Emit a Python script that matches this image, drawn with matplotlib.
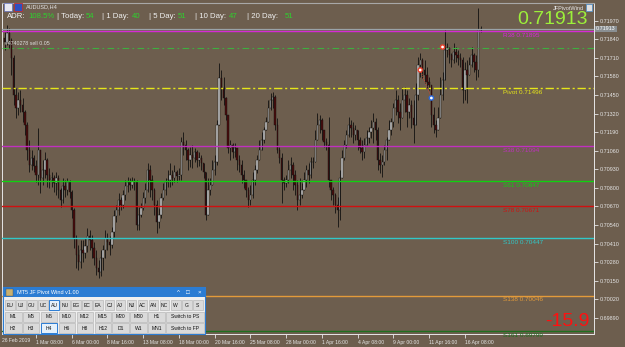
import numpy as np
import matplotlib.pyplot as plt
from matplotlib.patches import Rectangle

W, H = 625, 347
BG = '#6D5E4E'
FG = '#E6E6E6'

# --- AUDUSD H4 candles (prices x 1e-5), open = previous close ---
first_open = 71780
close = [71800, 71849, 71821, 71884, 71835, 71709, 71450, 71359, 71415, 71380,
         71331, 71240, 71065, 70960, 71009, 70953, 70890, 71065, 70869, 70925,
         70995, 70890, 70855, 70869, 70834, 70869, 70785, 70715, 70813, 70785,
         70841, 70771, 70645, 70449, 70330, 70281, 70365, 70344, 70393, 70463,
         70435, 70379, 70309, 70239, 70211, 70309, 70365, 70449, 70421, 70400,
         70491, 70603, 70645, 70715, 70680, 70750, 70813, 70841, 70820, 70848,
         70841, 70540, 70610, 70659, 70729, 70785, 70925, 70855, 70785, 70680,
         70561, 70610, 70729, 70785, 70841, 70855, 70890, 70869, 70911, 70883,
         70890, 71121, 71100, 71065, 70995, 71030, 71009, 71051, 70995, 71009,
         70974, 70911, 70610, 70785, 70820, 70925, 70981, 71240, 71569, 71499,
         71429, 71310, 71079, 71100, 71051, 71079, 70995, 70960, 70890, 70855,
         70785, 70715, 70750, 70855, 70925, 70995, 71065, 71135, 71205, 71261,
         71359, 71415, 71436, 71240, 71065, 71009, 70855, 70834, 70855, 70925,
         70960, 70890, 70820, 70715, 70750, 70785, 70855, 70925, 70890, 70981,
         70981, 71135, 71240, 71275, 71205, 71121, 71100, 70855, 70785, 70750,
         70680, 70645, 70869, 71009, 71100, 71170, 71240, 71219, 71170, 71205,
         71135, 71079, 71051, 71100, 71149, 71191, 71219, 71261, 71205, 70995,
         70960, 70981, 71065, 71135, 71205, 71261, 71359, 71415, 71331, 71289,
         71415, 71450, 71331, 71380, 71289, 71240, 71450, 71660, 71695, 71625,
         71590, 71541, 71520, 71310, 71240, 71205, 71289, 71450, 71555, 71765,
         71779, 71730, 71695, 71751, 71730, 71709, 71695, 71485, 71625, 71590,
         71660, 71730, 71681, 71625, 71905, 71913]
high = [71919, 71905, 71891, 71940, 71919, 71849, 71730, 71499, 71471, 71485,
        71429, 71345, 71261, 71135, 71065, 71030, 70995, 71219, 71065, 70995,
        71051, 71009, 70939, 70911, 70890, 70911, 70890, 70799, 70869, 70855,
        70869, 70855, 70785, 70659, 70470, 70400, 70435, 70435, 70449, 70519,
        70505, 70470, 70421, 70365, 70295, 70365, 70400, 70505, 70484, 70463,
        70526, 70645, 70680, 70764, 70736, 70785, 70855, 70876, 70869, 70876,
        70869, 70855, 70666, 70694, 70771, 70834, 70974, 70960, 70890, 70799,
        70715, 70659, 70764, 70834, 70869, 70925, 70974, 70925, 70960, 70925,
        70939, 71156, 71191, 71135, 71079, 71086, 71100, 71079, 71065, 71051,
        71030, 70960, 70911, 70869, 70869, 70995, 71030, 71275, 71674, 71625,
        71576, 71436, 71310, 71135, 71114, 71114, 71065, 71030, 70995, 70925,
        70855, 70806, 70820, 70911, 70960, 71030, 71135, 71191, 71226, 71296,
        71415, 71464, 71471, 71450, 71289, 71086, 71044, 70876, 70890, 70995,
        71016, 70981, 70925, 70855, 70869, 70834, 70911, 70960, 70974, 71016,
        71016, 71205, 71324, 71310, 71289, 71205, 71149, 71296, 70855, 70806,
        70764, 70736, 70925, 71065, 71135, 71205, 71296, 71275, 71261, 71240,
        71184, 71156, 71135, 71149, 71205, 71226, 71275, 71324, 71289, 71226,
        71044, 71030, 71100, 71156, 71275, 71289, 71394, 71485, 71450, 71394,
        71506, 71506, 71485, 71429, 71415, 71415, 71534, 71716, 71744, 71709,
        71695, 71646, 71576, 71520, 71366, 71275, 71366, 71576, 71611, 71905,
        71814, 71786, 71744, 71814, 71786, 71765, 71744, 71716, 71681, 71695,
        71716, 71786, 71744, 71730, 72059, 71933]
low = [71611, 71765, 71765, 71800, 71779, 71590, 71380, 71289, 71310, 71331,
       71261, 71170, 70995, 70911, 70925, 70911, 70841, 70820, 70764, 70820,
       70869, 70806, 70799, 70806, 70771, 70750, 70729, 70666, 70694, 70736,
       70750, 70729, 70589, 70379, 70239, 70225, 70239, 70281, 70309, 70351,
       70365, 70309, 70260, 70190, 70169, 70183, 70225, 70309, 70365, 70330,
       70379, 70456, 70561, 70610, 70645, 70659, 70715, 70771, 70785, 70799,
       70785, 70505, 70505, 70596, 70645, 70694, 70771, 70736, 70715, 70610,
       70484, 70519, 70589, 70715, 70750, 70806, 70806, 70820, 70841, 70841,
       70855, 70855, 71030, 70995, 70925, 70946, 70939, 70981, 70946, 70953,
       70925, 70869, 70575, 70680, 70750, 70820, 70890, 70960, 71240, 71415,
       71380, 71275, 71044, 70995, 71009, 71016, 70925, 70911, 70834, 70799,
       70736, 70666, 70680, 70729, 70820, 70904, 71016, 71065, 71114, 71205,
       71296, 71345, 71359, 71205, 71044, 70974, 70694, 70785, 70806, 70834,
       70869, 70785, 70750, 70645, 70680, 70729, 70785, 70806, 70834, 70869,
       70939, 71030, 71135, 71184, 71135, 71086, 71065, 70806, 70715, 70680,
       70624, 70526, 70575, 70904, 70995, 71079, 71156, 71156, 71114, 71135,
       71065, 71044, 70995, 71009, 71100, 71114, 71149, 71114, 71135, 70925,
       70904, 70876, 70960, 70995, 71135, 71170, 71226, 71310, 71254, 71205,
       71345, 71331, 71226, 71289, 71219, 71114, 71240, 71415, 71576, 71569,
       71534, 71499, 71485, 71226, 71184, 71156, 71205, 71345, 71415, 71555,
       71716, 71674, 71646, 71674, 71681, 71660, 71646, 71394, 71415, 71394,
       71604, 71646, 71611, 71555, 71576, 71891]

# --- pivot levels ---
level_names = ['R38', 'Pivot', 'S38', 'S61', 'S78', 'S100', 'S138', 'S161']
level_prices = [0.71895, 0.71496, 0.71094, 0.70847, 0.70671, 0.70447, 0.70046, 0.69799]
level_colors = ['#D62AD6', '#E6E619', '#C030C0', '#10D010', '#D01010', '#30C8C8', '#E39B3A', '#1E6E1E']
level_styles = ['-', (0, (6, 2, 1.5, 2)), '-', '-', '-', '-', '-', '-']

bid = 0.71913
order_price = 0.71778
order_text = '#4740278 sell 0.05'
spread_value = -15.9

# trade arrows (bar, price)
arrow_bars = [188, 193, 198]
arrow_prices = [0.71625, 0.71429, 0.71786]
arrow_colors = ['#E8402A', '#2A6AE0', '#E8402A']

price_ticks = [0.71970, 0.71840, 0.71710, 0.71580, 0.71450, 0.71320, 0.71190, 0.71060, 0.70930,
               0.70800, 0.70670, 0.70540, 0.70410, 0.70280, 0.70150, 0.70020, 0.69890]
time_bars = [16, 32, 48, 64, 80, 96, 112, 128, 144, 160, 176, 192, 208]
time_labels = ['1 Mar 08:00', '6 Mar 00:00', '8 Mar 16:00', '13 Mar 08:00', '18 Mar 00:00',
               '20 Mar 16:00', '25 Mar 08:00', '28 Mar 00:00', '1 Apr 16:00', '4 Apr 08:00',
               '9 Apr 00:00', '11 Apr 16:00', '16 Apr 08:00']
first_date = '26 Feb 2019'

adr_labels = ['ADR:', '| Today:', '| 1 Day:', '| 5 Day:', '| 10 Day:', '| 20 Day:']
adr_values = ['108.5%', '54', '40', '51', '47', '51']

pairs = ['EU', 'UJ', 'GU', 'UC', 'AU', 'NU', 'EG', 'EC', 'EA', 'CJ', 'AJ', 'NJ', 'AC', 'AN', 'NC', 'W', 'G', 'S']
tf_row1 = ['M1', 'M5', 'M6', 'M10', 'M12', 'M15', 'M20', 'M30', 'H1']
tf_row2 = ['H2', 'H3', 'H4', 'H6', 'H8', 'H12', 'D1', 'W1', 'MN1']

plt.rcParams['font.family'] = ['Liberation Sans', 'DejaVu Sans']

fig = plt.figure(figsize=(W / 100, H / 100), dpi=100, facecolor=BG)
ax = fig.add_axes([2 / W, 1 - 334 / H, 592 / W, 331 / H])
ax.set_facecolor(BG)

c = np.array(close) / 1e5
o = np.r_[first_open, close[:-1]] / 1e5
hi = np.maximum.reduce([np.array(high) / 1e5, o, c])
lo = np.minimum.reduce([np.array(low) / 1e5, o, c])
x = np.arange(len(c))
up = c >= o

ax.vlines(x, lo, hi, color='#111111', lw=0.6, zorder=2)
body = np.maximum(np.abs(c - o), 0.00002)
ax.bar(x[up], body[up], bottom=np.minimum(o, c)[up], width=0.62, color='#C8C8C8',
       edgecolor='#111111', linewidth=0.3, zorder=2)
ax.bar(x[~up], body[~up], bottom=np.minimum(o, c)[~up], width=0.62, color='#4A0B0B',
       edgecolor='#111111', linewidth=0.3, zorder=2)

# level lines + labels
for name, p, col, ls in zip(level_names, level_prices, level_colors, level_styles):
    ax.axhline(p, color=col, lw=1.0, ls=ls, zorder=3)
    ax.annotate(f'{name} {p:.5f}', xy=(501 / 592, p), xycoords=('axes fraction', 'data'),
                xytext=(0, -1.2), textcoords='offset points', va='top', ha='left',
                fontsize=4.6, color=col, zorder=4)

ax.axhline(bid, color='#9AA3A8', lw=0.9, zorder=3)
ax.axhline(order_price, color='#3FAE3F', lw=0.8, ls=(0, (6, 3, 1.5, 3)), zorder=3)
ax.annotate(order_text, xy=(3 / 592, order_price), xycoords=('axes fraction', 'data'),
            xytext=(0, 1.5), textcoords='offset points', va='bottom', ha='left',
            fontsize=3.8, color='#DDDDDD', zorder=4)

ax.plot(arrow_bars[:2], arrow_prices[:2], color='#E8402A', lw=0.6, ls=':', zorder=4)
ax.scatter(arrow_bars, arrow_prices, s=9, c='white', edgecolors=arrow_colors, linewidths=1.0, zorder=5)

# price label box on scale
ax.annotate(f'{bid:.5f}', xy=(1, bid), xycoords=('axes fraction', 'data'), xytext=(1.5, 0),
            textcoords='offset points', va='center', ha='left', fontsize=3.9, color='white',
            bbox=dict(boxstyle='square,pad=0.15', fc='#8A8F92', ec='none'), annotation_clip=False, zorder=6)

ax.set_xlim(0.78, 265.8)
ax.set_ylim(0.69777, 0.72094)
ax.yaxis.tick_right()
ax.set_yticks(price_ticks)
ax.set_yticklabels([f'{v:.5f}' for v in price_ticks])
ax.set_xticks(time_bars)
ax.set_xticklabels(time_labels)
for lab in ax.get_xticklabels():
    lab.set_ha('left')
ax.tick_params(axis='y', colors=FG, labelsize=3.9, length=3, width=0.6, pad=1)
ax.tick_params(axis='x', colors=FG, labelsize=3.6, length=3, width=0.6, pad=1.5)
for side in ['left', 'bottom', 'right']:
    ax.spines[side].set_color(FG)
    ax.spines[side].set_linewidth(0.7)
ax.spines['top'].set_color('#A8A8A8')
ax.spines['top'].set_linewidth(0.8)

# overlay in pixel coordinates
ov = fig.add_axes([0, 0, 1, 1], zorder=10)
ov.set_xlim(0, W)
ov.set_ylim(H, 0)
ov.axis('off')
ov.patch.set_alpha(0)

ov.text(2, 340, first_date, fontsize=3.6, color=FG, va='center', ha='left')

# header
ov.add_patch(Rectangle((4, 3), 8, 8, fc='#E8E8F0', ec='#5060C0', lw=0.4))
ov.add_patch(Rectangle((14, 3), 8, 8, fc='#3050C0', ec='#C03030', lw=0.6))
ov.text(26, 7, 'AUDUSD,H4', fontsize=4.0, color=FG, va='center')
adr_x = [7, 57, 102, 149, 195, 247]
val_x = [28, 86, 132, 178, 229, 285]
for lx, lt, vx, vt in zip(adr_x, adr_labels, val_x, adr_values):
    ov.text(lx, 16.5, lt, fontsize=5.6, color='#F0F0F0', va='center')
    ov.text(vx, 16.5, vt, fontsize=5.6, color='#2ED12E', va='center')

ov.text(584, 8, 'JFPivotWind', fontsize=4.0, color=FG, va='center', ha='right')
ov.add_patch(Rectangle((586, 4), 6, 7, fc='#E0E0E0', ec='#4A90D0', lw=0.5))
ov.text(588, 19.5, f'{bid:.5f}', fontsize=14, color='#9CF03A', va='center', ha='right')
ov.text(589, 321, f'{spread_value:.1f}', fontsize=14, color='#FF1010', va='center', ha='right')

# control panel
ov.add_patch(Rectangle((3, 287), 202, 47, fc='#F0F0F0', ec='#2B7CD3', lw=0.8))
ov.add_patch(Rectangle((3, 287), 202, 10, fc='#2B7CD3', ec='none'))
ov.add_patch(Rectangle((6, 289), 7, 7, fc='#C8B070', ec='#505050', lw=0.3))
ov.text(17, 292.2, 'MT5 JF Pivot Wind v1.00', fontsize=4, color='white', va='center')
for px, sym in zip([178, 188, 199], ['^', '□', '×']):
    ov.text(px, 292.2, sym, fontsize=4.5, color='white', va='center', ha='center')

def button(x0, y0, w, h, label, active=False):
    ov.add_patch(Rectangle((x0, y0), w, h, fc='#E5F1FB' if active else '#DADADA',
                           ec='#2B7CD3' if active else '#ADADAD', lw=0.7 if active else 0.4))
    ov.text(x0 + w / 2, y0 + h / 2 + 0.3, label, fontsize=3.6, color='#111111', ha='center', va='center')

for k, lab in enumerate(pairs):
    button(5 + k * 11.06, 300, 9.6, 9.5, lab, active=(lab == 'AU'))
for k, lab in enumerate(tf_row1):
    button(5 + k * 17.9, 311.5, 16.5, 10, lab)
button(166, 311.5, 38, 10, 'Switch to PS')
for k, lab in enumerate(tf_row2):
    button(5 + k * 17.9, 323, 16.5, 10, lab, active=(lab == 'H4'))
button(166, 323, 38, 10, 'Switch to FP')

fig.savefig('out.png', dpi=100, facecolor=BG)
